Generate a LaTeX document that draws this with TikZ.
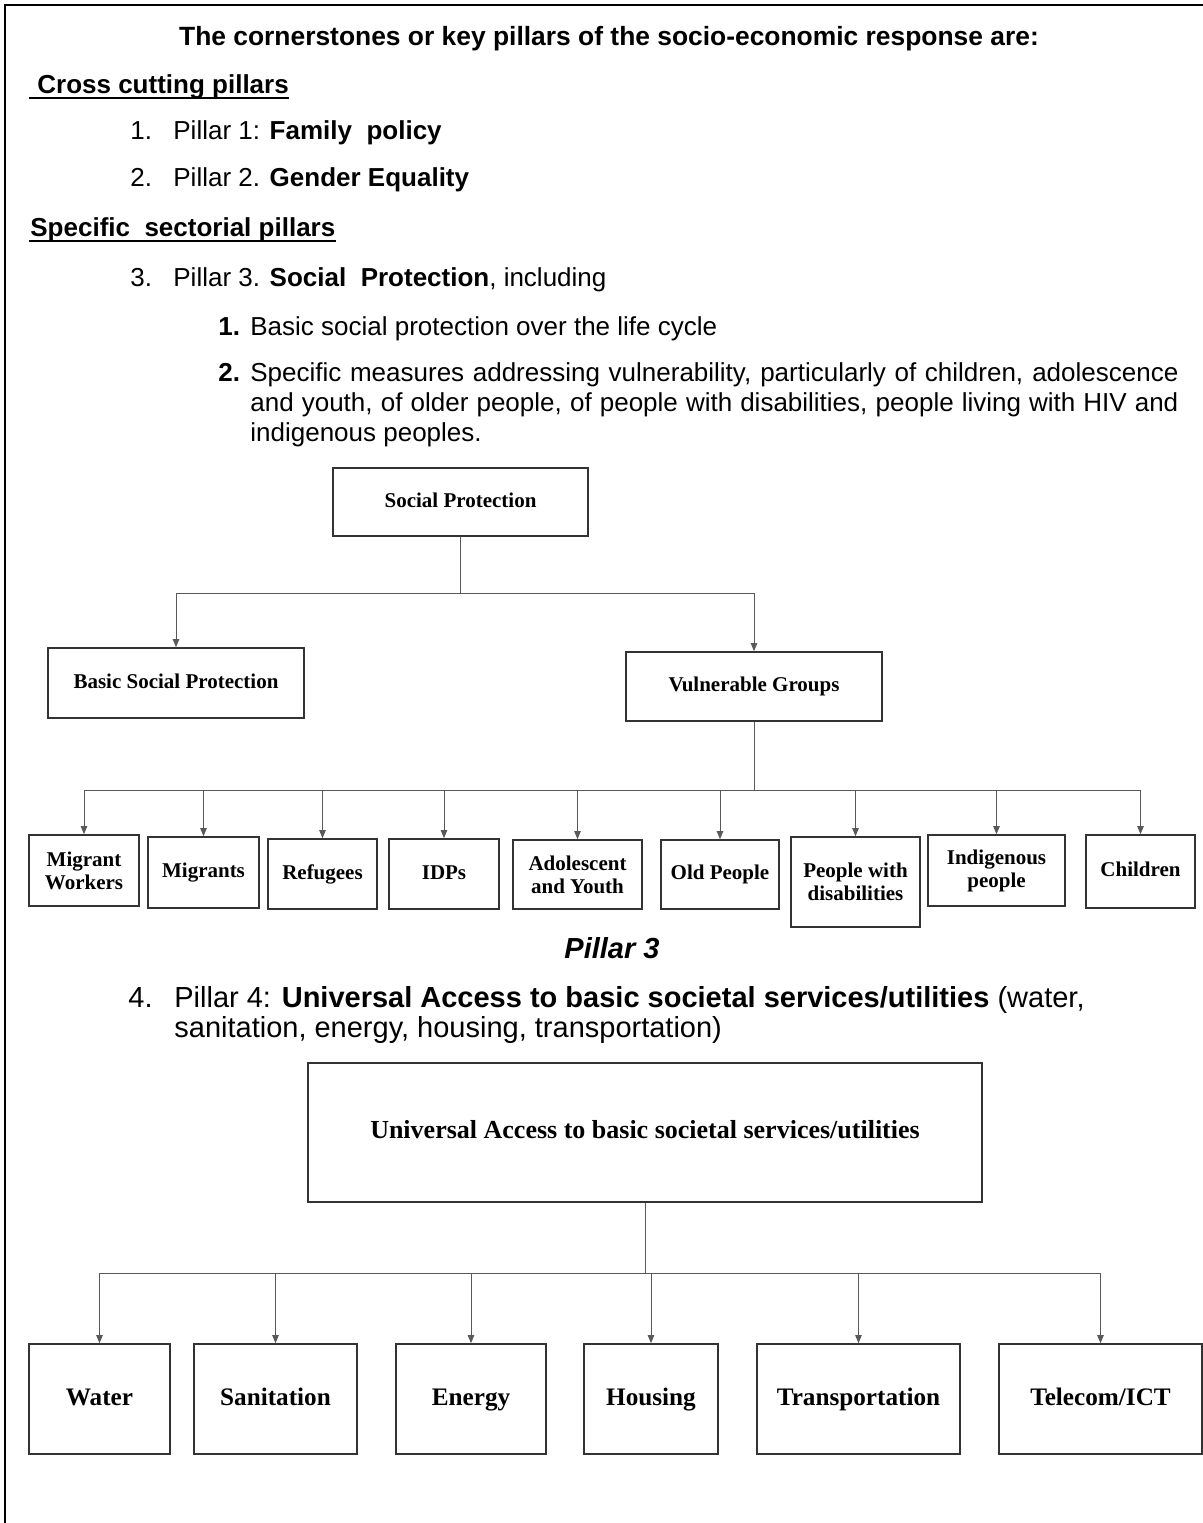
\documentclass[tikz,border=0pt]{standalone}
\usepackage{fontspec}
\setmainfont{Liberation Sans}
\newfontfamily\chartfont{Liberation Serif}
\usetikzlibrary{arrows.meta, positioning, calc}

\begin{document}
\begin{tikzpicture}[x=0.5pt, y=-0.5pt, >={Triangle[length=4pt, width=3.2pt]},
  txt/.style={anchor=base west, inner sep=0, font=\fontsize{13}{15}\selectfont},
  bigtxt/.style={txt, font=\fontsize{14.5}{15}\selectfont},
  box/.style={draw=black!80, line width=0.8pt, fill=white, inner sep=1pt, align=center, font={\chartfont\bfseries\fontsize{10.5}{11.5}\selectfont}},
  oneline/.style={text height=7.5pt, text depth=2.4pt},
  bigbox/.style={box, text height=9pt, text depth=2.8pt, font={\chartfont\bfseries\fontsize{12.6}{14}\selectfont}},
  link/.style={draw=black!65, line width=0.5pt},
  uline/.style={line width=0.9pt}]
\useasboundingbox (0,0) rectangle (1203,1523);
\draw[line width=1.1pt] (5,1523) -- (5,5) -- (1203,5);

\node[anchor=base, inner sep=0, font=\fontsize{13.2}{15}\selectfont\bfseries] (title) at (609,45) {The cornerstones or key pillars of the socio-economic response are:};
\node[txt, font=\fontsize{13}{15}\selectfont\bfseries] (cross) at (37,93) {Cross cutting pillars};
\draw[uline] ($(cross.base west)+(-8,5)$) -- ($(cross.base east)+(0,5)$);
\node[txt] (n1) at (130,139) {1.}; \node[txt] (p1) at (173,139) {Pillar 1: \textbf{Family\ \ policy}};
\node[txt] (n2) at (130,186) {2.}; \node[txt] (p2) at (173,186) {Pillar 2. \textbf{Gender Equality}};
\node[txt, font=\fontsize{13}{15}\selectfont\bfseries] (spec) at (30,236) {Specific\ \ sectorial pillars};
\draw[uline] ($(spec.base west)+(-1,5)$) -- ($(spec.base east)+(0,5)$);
\node[txt] (n3) at (130,286) {3.}; \node[txt] (p3) at (173,286) {Pillar 3. \textbf{Social\ \ Protection}, including};
\node[txt] (s1) at (218,335) {\textbf{1.}}; \node[txt] (basic) at (250,335) {Basic social protection over the life cycle};
\node[txt] (s2) at (218,381) {\textbf{2.}};
\node[txt] (spec1) at (250,381) {\makebox[464pt][s]{Specific measures addressing vulnerability, particularly of children, adolescence}};
\node[txt] (spec2) at (250,411) {\makebox[464pt][s]{and youth, of older people, of people with disabilities, people living with HIV and}};
\node[txt] (spec3) at (250,441) {indigenous peoples.};

\node[box, oneline, minimum width=127.5pt, minimum height=34pt] (sp) at (460.5,502) {Social Protection};
\node[box, oneline, minimum width=128pt, minimum height=35pt] (bsp) at (176,683) {Basic Social Protection};
\node[box, oneline, minimum width=128pt, minimum height=34.5pt] (vg) at (754,686.5) {Vulnerable Groups};
\coordinate (j1) at (460.5,593);
\draw[link] (sp) -- (j1); \draw[link, ->] (j1) -| (bsp); \draw[link, ->] (j1) -| (vg);

\node[box, minimum width=55pt, minimum height=35.5pt] (mw) at (84,870.5) {Migrant\\Workers};
\node[box, oneline, minimum width=55.5pt, minimum height=35.5pt] (mig) at (203.5,872.5) {Migrants};
\node[box, oneline, minimum width=54.5pt, minimum height=35pt] (ref) at (322.5,874) {Refugees};
\node[box, oneline, minimum width=55pt, minimum height=35pt] (idp) at (444,874) {IDPs};
\node[box, minimum width=64.5pt, minimum height=34.5pt] (ado) at (577.5,874.5) {Adolescent\\and Youth};
\node[box, oneline, minimum width=59pt, minimum height=34.5pt] (old) at (720,874.5) {Old People};
\node[box, minimum width=64.5pt, minimum height=45pt] (pwd) at (855.5,882) {People with\\disabilities};
\node[box, minimum width=68.5pt, minimum height=35.5pt] (ind) at (996.5,870.5) {Indigenous\\people};
\node[box, oneline, minimum width=54.5pt, minimum height=36.5pt] (chi) at (1140.5,871.5) {Children};
\coordinate (j2) at (754,790);
\draw[link] (vg) -- (j2);
\draw[link, ->] (j2) -| (mw); \draw[link, ->] (j2) -| (mig); \draw[link, ->] (j2) -| (ref);
\draw[link, ->] (j2) -| (idp); \draw[link, ->] (j2) -| (ado); \draw[link, ->] (j2) -| (old);
\draw[link, ->] (j2) -| (pwd); \draw[link, ->] (j2) -| (ind); \draw[link, ->] (j2) -| (chi);

\node[anchor=base, inner sep=0, font=\fontsize{14.5}{15}\selectfont\bfseries\itshape] (cap) at (612,958) {Pillar 3};

\node[bigtxt] (n4) at (128,1007) {4.};
\node[bigtxt] (p4) at (174,1007) {Pillar 4: \textbf{Universal Access to basic societal services/utilities} (water,};
\node[bigtxt] (p4b) at (174,1037) {sanitation, energy, housing, transportation)};

\node[box, minimum width=337pt, minimum height=69.5pt, text height=9.3pt, text depth=2.9pt, font={\chartfont\bfseries\fontsize{13}{15}\selectfont}] (ua) at (645,1132.5) {Universal Access to basic societal services/utilities};
\node[bigbox, minimum width=70.5pt, minimum height=55pt] (water) at (99.5,1399) {Water};
\node[bigbox, minimum width=81.5pt, minimum height=55pt] (san) at (275.5,1399) {Sanitation};
\node[bigbox, minimum width=75pt, minimum height=55pt] (energy) at (471,1399) {Energy};
\node[bigbox, minimum width=67pt, minimum height=55pt] (housing) at (651,1399) {Housing};
\node[bigbox, minimum width=101.5pt, minimum height=55pt] (trans) at (858.5,1399) {Transportation};
\node[bigbox, minimum width=101.5pt, minimum height=55pt] (tel) at (1100.5,1399) {Telecom/ICT};
\coordinate (j3) at (645,1273);
\draw[link] (ua) -- (j3);
\draw[link, ->] (j3) -| (water); \draw[link, ->] (j3) -| (san); \draw[link, ->] (j3) -| (energy);
\draw[link, ->] (j3) -| (housing); \draw[link, ->] (j3) -| (trans); \draw[link, ->] (j3) -| (tel);
\end{tikzpicture}
\end{document}
